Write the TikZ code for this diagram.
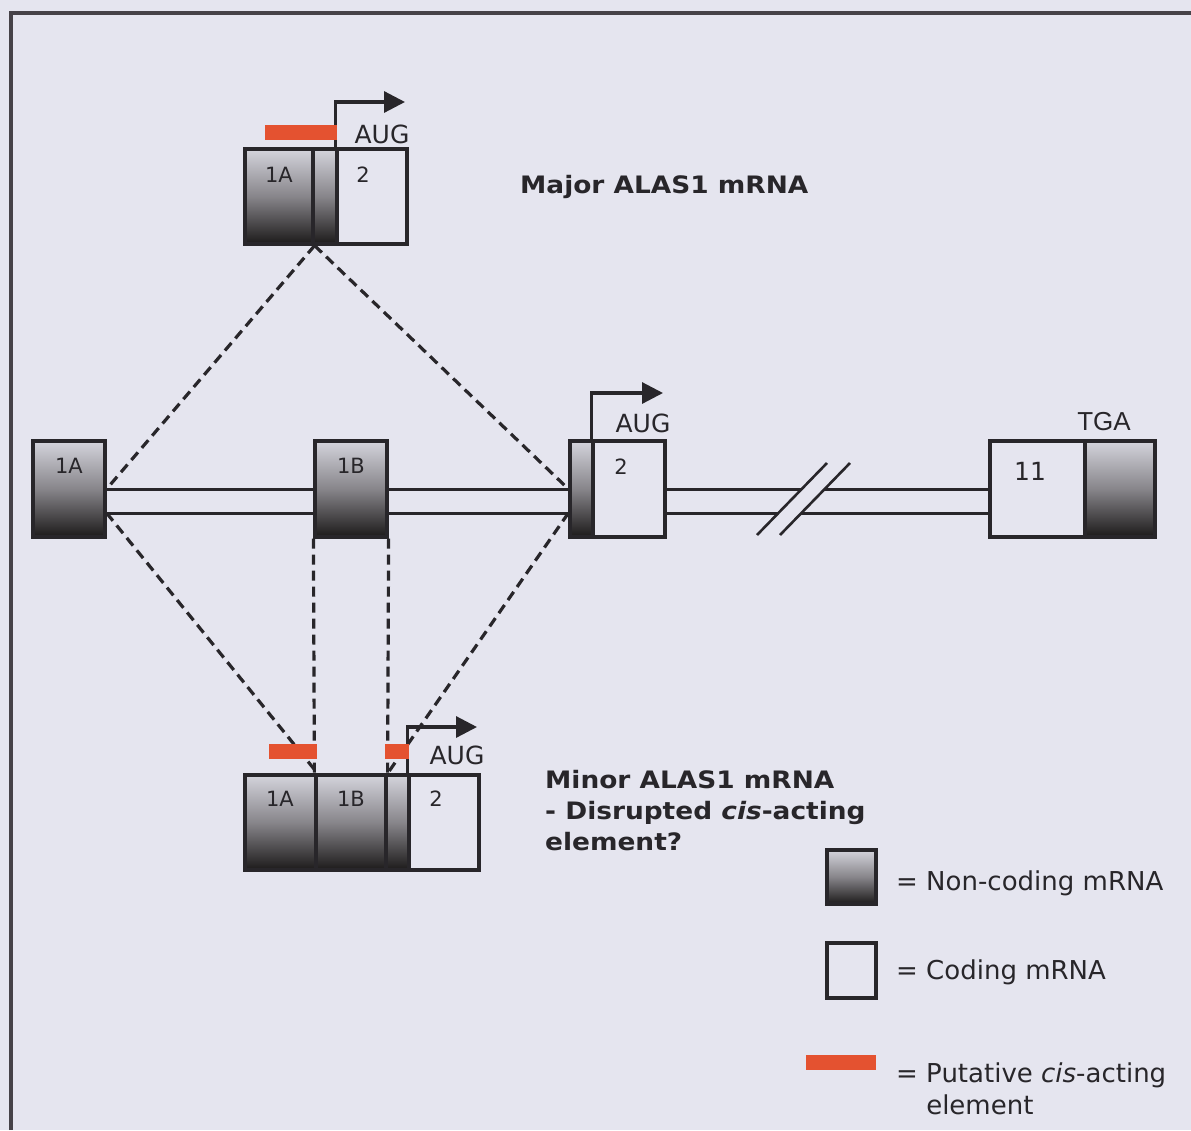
\documentclass[tikz,border=0pt]{standalone}
\usepackage{fontspec}
\setmainfont{DejaVu Sans}
\newfontfamily\widefont{DejaVu Sans}[FakeStretch=1.1]
\newfontfamily\tgafont{Liberation Sans}
\usetikzlibrary{arrows.meta,calc}
\definecolor{bg}{RGB}{229,229,239}
\definecolor{ink}{RGB}{40,38,42}
\definecolor{framec}{RGB}{70,66,72}
\definecolor{cis}{RGB}{228,82,48}
\definecolor{ncTop}{RGB}{212,212,220}
\definecolor{ncMid}{RGB}{135,133,138}
\definecolor{ncBot}{RGB}{28,26,26}
\begin{document}
\begin{tikzpicture}[x=1pt,y=-1pt,
  box/.style={draw=ink, line width=3.2pt, inner sep=0pt, minimum height=95pt},
  nc/.style={box, top color=ncTop, bottom color=ncBot, middle color=ncMid},
  cod/.style={box},
  cisbar/.style={fill=cis, draw=none, inner sep=0pt, minimum height=15pt},
  intron/.style={draw=ink, line width=3pt},
  slash/.style={draw=ink, line width=2.6pt},
  splice/.style={draw=ink, line width=3.2pt, dash pattern=on 10pt off 6pt},
  startarr/.style={draw=ink, line width=3.2pt, -{Triangle[length=21pt,width=21pt]}},
  lbl/.style={text=ink, inner sep=0pt, font=\fontsize{21}{21}\selectfont},
  aug/.style={text=ink, inner sep=0pt, font=\fontsize{25}{25}\selectfont},
  title/.style={text=ink, inner sep=0pt, align=left, font=\widefont\bfseries\fontsize{24}{31}\selectfont},
  legtext/.style={text=ink, inner sep=0pt, align=left, font=\fontsize{26}{32}\selectfont},
  framel/.style={draw=framec, line width=3.5pt}]
\useasboundingbox (0,0) rectangle (1191,1130);
\fill[bg] (0,0) rectangle (1191,1130);
\draw[framel] (11,1130) -- (11,13) -- (1191,13);

% ---------- major mRNA (top) ----------
\node[nc, minimum width=68pt] (t1A) at (279,196.5) {};
\node[nc, minimum width=24pt] (tG) at (325,196.5) {};
\node[cod, minimum width=70pt] (t2) at (372,196.5) {};
\node[lbl] (t1Al) at (279,175) {1A};
\node[lbl] (t2l) at (363,175) {2};
\coordinate (tTip) at (405,102);
\draw[startarr] (t2.north west) |- (tTip);
\node[aug] (tAUG) at (382,134) {AUG};
\node[title, anchor=west] (tTitle) at (520,187) {Major ALAS1 mRNA};

% ---------- genomic row (middle) ----------
\node[nc, minimum width=72pt, minimum height=96pt] (m1A) at (69,489) {};
\node[nc, minimum width=72pt, minimum height=96pt] (m1B) at (351,489) {};
\node[nc, minimum width=23pt, minimum height=96pt] (m2G) at (581.5,489) {};
\node[cod, minimum width=72pt, minimum height=96pt] (m2) at (629,489) {};
\node[cod, minimum width=95pt, minimum height=96pt] (m11) at (1037.5,489) {};
\node[nc, minimum width=70pt, minimum height=96pt] (m11G) at (1120,489) {};
\node[lbl] (m1Al) at (69,466) {1A};
\node[lbl] (m1Bl) at (351,466) {1B};
\node[lbl] (m2l) at (621,467) {2};
\node[text=ink, inner sep=0pt, font=\fontsize{25}{25}\selectfont] (m11l) at (1030,471) {11};
\coordinate (mTip) at (663,393);
\draw[startarr] (m2.north west) |- (mTip);
\node[aug] (mAUG) at (643,423) {AUG};
\node[text=ink, inner sep=0pt, font=\tgafont\fontsize{26}{26}\selectfont] (mTGA) at (1104,422) {TGA};

% introns
\draw[intron] (m1A.east) -- (m1B.west);
\draw[intron] ($(m1A.east)+(0,24)$) -- ($(m1B.west)+(0,24)$);
\draw[intron] (m1B.east) -- (m2G.west);
\draw[intron] ($(m1B.east)+(0,24)$) -- ($(m2G.west)+(0,24)$);
\coordinate (bU1) at (801.7,489);
\coordinate (bU2) at (824.7,489);
\coordinate (bL1) at (778.4,513);
\coordinate (bL2) at (801.4,513);
\draw[intron] (m2.east) -- (bU1);
\draw[intron] (bU2) -- (m11.west);
\draw[intron] ($(m2.east)+(0,24)$) -- (bL1);
\draw[intron] (bL2) -- ($(m11.west)+(0,24)$);
\coordinate (s1a) at (757,535);
\coordinate (s1b) at (827,463);
\coordinate (s2a) at (780,535);
\coordinate (s2b) at (850,463);
\draw[slash] (s1a) -- (s1b);
\draw[slash] (s2a) -- (s2b);

% ---------- minor mRNA (bottom) ----------
\node[nc, minimum width=71pt] (n1A) at (280.5,822.5) {};
\node[nc, minimum width=70pt] (n1B) at (351,822.5) {};
\node[nc, minimum width=23pt] (nG) at (397.5,822.5) {};
\node[cod, minimum width=70pt] (n2) at (444,822.5) {};
\node[lbl] (n1Al) at (280,799) {1A};
\node[lbl] (n1Bl) at (351,799) {1B};
\node[lbl] (n2l) at (436,799) {2};
\coordinate (nTip) at (477,727);
\draw[startarr] (n2.north west) |- (nTip);
\node[aug] (nAUG) at (457,755) {AUG};

% splicing (dashed)
\draw[splice] (t1A.south east) -- (m1A.east);
\draw[splice] (t1A.south east) -- (m2G.west);
\draw[splice] ($(m1A.east)+(0,24)$) -- (n1A.north east);
\draw[splice] (m1B.south west) -- (n1B.north west);
\draw[splice] (m1B.south east) -- (n1B.north east);
\draw[splice] ($(m2G.west)+(0,24)$) -- (n1B.north east);

% cis-acting elements
\node[cisbar, minimum width=72pt] (tCis) at (301,132.5) {};
\node[cisbar, minimum width=48pt] (nCis1) at (293,751.5) {};
\node[cisbar, minimum width=24pt] (nCis2) at (397,751.5) {};

\node[title, anchor=west] (nTitle) at (545,811) {Minor ALAS1 mRNA\\- Disrupted \textit{cis}-acting\\element?};

% ---------- legend ----------
\node[nc, minimum width=49pt, minimum height=54pt] (legNC) at (851.5,877) {};
\node[legtext, anchor=west] (legNCt) at (896,883) {= Non-coding mRNA};
\node[cod, minimum width=49pt, minimum height=55pt] (legC) at (851.5,970.5) {};
\node[legtext, anchor=west] (legCt) at (896,972) {= Coding mRNA};
\node[cisbar, minimum width=70pt, minimum height=15pt] (legCis) at (841,1062) {};
\node[legtext, anchor=west] (legCist) at (896,1089) {= Putative \textit{cis}-acting\\\hphantom{= }element};
\end{tikzpicture}
\end{document}
